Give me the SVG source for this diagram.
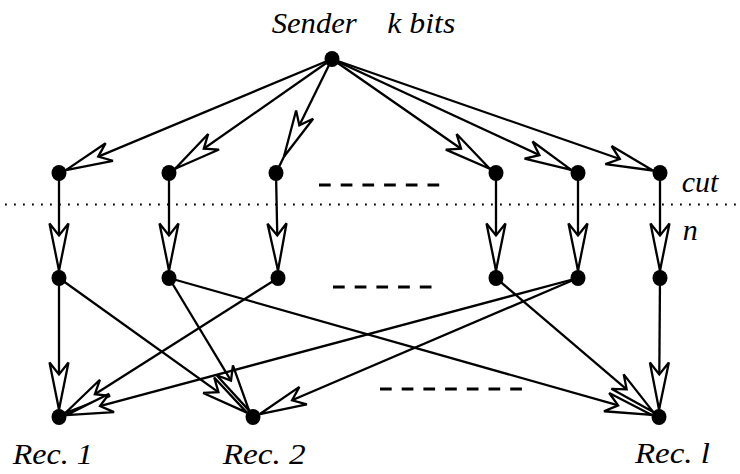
<svg xmlns="http://www.w3.org/2000/svg" width="740" height="474" viewBox="0 0 740 474">
<style>
.edge{fill:none;stroke:#000;stroke-width:2.3;marker-end:url(#ah)}
.plain{fill:none;stroke:#000;stroke-width:2.3}
.dot{fill:#000}
.lbl{font-family:"Liberation Serif","Times New Roman",serif;font-style:italic;font-size:30px;fill:#000}
.dash{stroke:#000;stroke-width:3;stroke-dasharray:11.7 10;fill:none}
.cut{stroke:#000;stroke-width:1.8;stroke-dasharray:1.8 7.2;fill:none}
</style>
<defs>
<marker id="ah" markerUnits="userSpaceOnUse" viewBox="-50 -15 60 30" markerWidth="60" markerHeight="30" refX="0" refY="0" orient="auto" overflow="visible">
<path d="M0,0 L-47,-9.5 L-35,0 L-47,9.5 Z" fill="#fff" stroke="#000" stroke-width="2.3"/>
</marker>
</defs>
<rect width="740" height="474" fill="#fff"/>
<line class="cut" x1="5" y1="204.5" x2="740" y2="204.5"/>
<g id="ellipses">
<line class="dash" x1="319" y1="185" x2="440" y2="185"/>
<line class="dash" x1="333" y1="287" x2="432" y2="287"/>
<line class="dash" x1="380" y1="389" x2="523" y2="389"/>
</g>
<g id="connectors">
<path class="edge" d="M332,59 L65.9,170.1"/>
<path class="edge" d="M332,59 L175.1,168.7"/>
<path class="plain" d="M283.9,156.8 L279.1,166.7"/>
<path class="edge" d="M332,59 L283.9,156.8"/>
<path class="edge" d="M332,59 L489.8,168.7"/>
<path class="edge" d="M332,59 L571.2,169.85"/>
<path class="edge" d="M332,59 L652.9,170.5"/>
<path class="edge" d="M59,173 L59,270.5"/>
<path class="edge" d="M169,173 L169,270.5"/>
<path class="edge" d="M276,173 L278,270.5"/>
<path class="edge" d="M496,173 L496,270.5"/>
<path class="edge" d="M578,173 L578,270.5"/>
<path class="edge" d="M660,173 L660,270.5"/>
<path class="edge" d="M59,278 L59,409.5"/>
<path class="edge" d="M59,278 L246.9,412.6"/>
<path class="edge" d="M169,278 L249.1,410.6"/>
<path class="edge" d="M169,278 L651.8,414.95"/>
<path class="edge" d="M278,278 L65.3,413"/>
<path class="edge" d="M496,278 L653.3,412.1"/>
<path class="edge" d="M578,278 L66.2,415.1"/>
<path class="edge" d="M578,278 L259.9,414.05"/>
<path class="edge" d="M660,278 L659.05,409.5"/>
</g>
<g id="sender">
<ellipse class="dot" cx="332" cy="59" rx="7.5" ry="8"/>
<text class="lbl" x="271.7" y="33.3" textLength="85" lengthAdjust="spacingAndGlyphs">Sender</text>
<text class="lbl" x="387.3" y="33.3" textLength="68" lengthAdjust="spacingAndGlyphs">k bits</text>
</g>
<g id="top1"><ellipse class="dot" cx="59" cy="173" rx="7.5" ry="8"/></g>
<g id="top2"><ellipse class="dot" cx="169" cy="173" rx="7.5" ry="8"/></g>
<g id="top3"><ellipse class="dot" cx="276" cy="173" rx="7.5" ry="8"/></g>
<g id="top4"><ellipse class="dot" cx="496" cy="173" rx="7.5" ry="8"/></g>
<g id="top5"><ellipse class="dot" cx="578" cy="173" rx="7.5" ry="8"/></g>
<g id="top6"><ellipse class="dot" cx="660" cy="173" rx="7.5" ry="8"/>
<text class="lbl" x="681.7" y="191.7">cut</text>
</g>
<g id="mid1"><ellipse class="dot" cx="59" cy="278" rx="7.5" ry="8"/></g>
<g id="mid2"><ellipse class="dot" cx="169" cy="278" rx="7.5" ry="8"/></g>
<g id="mid3"><ellipse class="dot" cx="278" cy="278" rx="7.5" ry="8"/></g>
<g id="mid4"><ellipse class="dot" cx="496" cy="278" rx="7.5" ry="8"/></g>
<g id="mid5"><ellipse class="dot" cx="578" cy="278" rx="7.5" ry="8"/></g>
<g id="mid6"><ellipse class="dot" cx="660" cy="278" rx="7.5" ry="8"/>
<text class="lbl" x="682.7" y="240">n</text>
</g>
<g id="rec1"><ellipse class="dot" cx="59" cy="417" rx="7.5" ry="8"/>
<text class="lbl" x="12.7" y="464.3" textLength="80" lengthAdjust="spacingAndGlyphs">Rec. 1</text>
</g>
<g id="rec2"><ellipse class="dot" cx="253" cy="417" rx="7.5" ry="8"/>
<text class="lbl" x="222.7" y="464.3" textLength="83" lengthAdjust="spacingAndGlyphs">Rec. 2</text>
</g>
<g id="recl"><ellipse class="dot" cx="659" cy="417" rx="7.5" ry="8"/>
<text class="lbl" x="635" y="463.3" textLength="75" lengthAdjust="spacingAndGlyphs">Rec. l</text>
</g>
</svg>
